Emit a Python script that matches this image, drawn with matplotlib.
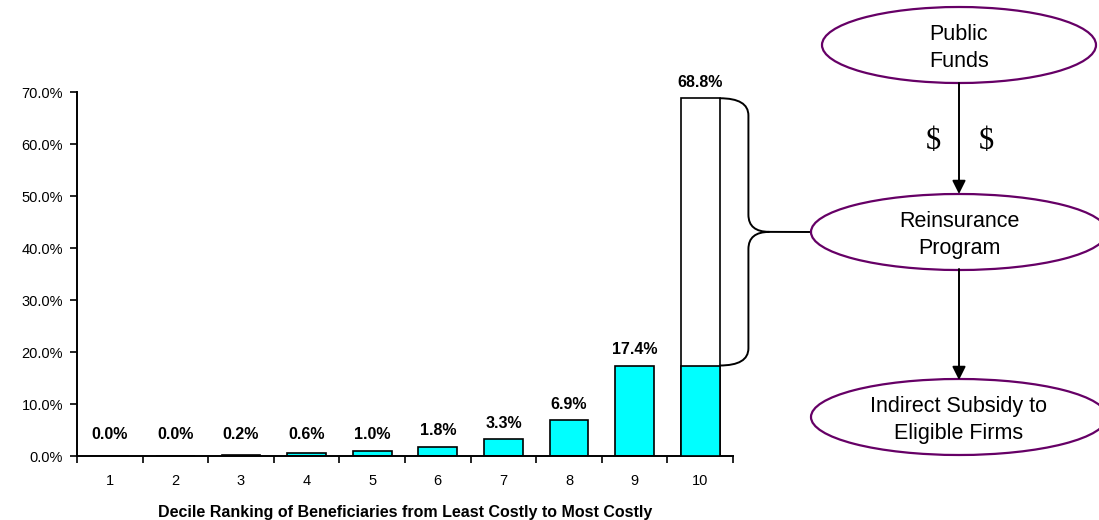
import matplotlib
matplotlib.use('Agg')
import matplotlib.pyplot as plt
from matplotlib.patches import Ellipse, FancyArrowPatch, PathPatch, ConnectionPatch
from matplotlib.path import Path
from matplotlib.ticker import FuncFormatter

plt.rcParams['font.family'] = ['Liberation Sans', 'DejaVu Sans']

# data
deciles = ['1', '2', '3', '4', '5', '6', '7', '8', '9', '10']
shares = [0.0, 0.0, 0.2, 0.6, 1.0, 1.8, 3.3, 6.9, 17.4, 68.8]
retained_top = 17.4   # cyan part of the top decile, the rest goes to reinsurance
flow_nodes = ['Public\nFunds', 'Reinsurance\nProgram', 'Indirect Subsidy to\nEligible Firms']

W, H = 1099, 520
fig = plt.figure(figsize=(W / 100, H / 100), dpi=100)
ax = fig.add_axes([77 / W, 1 - 456 / H, 656 / W, 364 / H])

x = list(range(len(deciles)))
bw = 0.59
cyan = '#00FFFF'
ax.bar(x[:-1], shares[:-1], bw, color=cyan, edgecolor='black', linewidth=1.2, zorder=2)
ax.bar(x[-1], shares[-1], bw, color='white', edgecolor='black', linewidth=1.2, zorder=2)
ax.bar(x[-1], retained_top, bw, color=cyan, edgecolor='black', linewidth=1.2, zorder=3)

for xi, v in zip(x, shares):
    ax.annotate('%.1f%%' % v, (xi, max(v, 1.0)), xytext=(0, 6), textcoords='offset points',
                ha='center', va='bottom', fontsize=11.5, fontweight='bold')

ax.set_xlim(-0.5, len(deciles) - 0.5)
ax.set_ylim(0, 70)
ax.set_yticks(range(0, 71, 10))
ax.yaxis.set_major_formatter(FuncFormatter(lambda v, p: '%.1f%%' % v))
ax.set_xticks(x)
ax.set_xticklabels(deciles)
ax.set_xticks([i - 0.5 for i in range(len(deciles) + 1)], minor=True)
ax.tick_params(axis='x', which='major', length=0, pad=13, labelsize=10.5)
ax.tick_params(axis='x', which='minor', length=5, width=1.2, direction='out')
ax.tick_params(axis='y', length=5, width=1.2, pad=5, labelsize=10.5)
for s in ['top', 'right']:
    ax.spines[s].set_visible(False)
for s in ['left', 'bottom']:
    ax.spines[s].set_linewidth(1.4)
ax.set_xlabel('Decile Ranking of Beneficiaries from Least Costly to Most Costly',
              fontsize=11.5, fontweight='bold', labelpad=12)

# curly brace beside the top decile
x0 = x[-1] + bw / 2
x1 = x0 + 0.44
xt = x0 + 0.76
top, bot = shares[-1], retained_top
mid = (top + bot) / 2
r = 3.3
verts = [(x0, top), (x1, top), (x1, top - r),
         (x1, mid + r), (x1, mid), (xt, mid),
         (x1, mid), (x1, mid - r),
         (x1, bot + r), (x1, bot), (x0, bot)]
codes = [Path.MOVETO, Path.CURVE3, Path.CURVE3,
         Path.LINETO, Path.CURVE3, Path.CURVE3,
         Path.CURVE3, Path.CURVE3,
         Path.LINETO, Path.CURVE3, Path.CURVE3]
ax.add_patch(PathPatch(Path(verts, codes), fill=False, edgecolor='black', lw=1.4,
                       clip_on=False, zorder=4))

# flow diagram on the right
purple = '#660066'
cx = 959 / W
ell = [(45, 274), (232, 296), (417, 296)]
for (cy, w), label in zip(ell, flow_nodes):
    fig.patches.append(Ellipse((cx, 1 - cy / H), w / W, 76 / H, transform=fig.transFigure,
                               facecolor='white', edgecolor=purple, lw=1.6))
    fig.text(cx, 1 - (cy + 3) / H, label, ha='center', va='center', fontsize=15.5,
             linespacing=1.4)

for ya, yb in [(83, 194), (269, 380)]:
    fig.patches.append(FancyArrowPatch((cx, 1 - ya / H), (cx, 1 - yb / H),
                                       transform=fig.transFigure, arrowstyle='-|>',
                                       mutation_scale=20, color='black', lw=1.4,
                                       shrinkA=0, shrinkB=0))
fig.text(933 / W, 1 - 142 / H, '$', ha='center', va='center', fontsize=22,
         family='Liberation Serif')
fig.text(986 / W, 1 - 142 / H, '$', ha='center', va='center', fontsize=22,
         family='Liberation Serif')

con = ConnectionPatch(xyA=(xt, mid), coordsA=ax.transData,
                      xyB=(811 / W, 1 - 232 / H), coordsB=fig.transFigure,
                      color='black', lw=1.4)
fig.add_artist(con)

plt.savefig('out.png', dpi=100)
